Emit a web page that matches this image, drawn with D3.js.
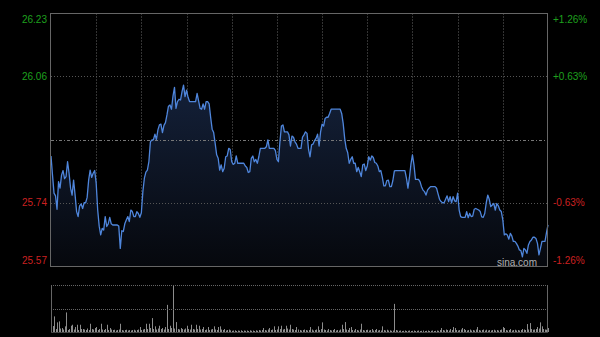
<!DOCTYPE html>
<html><head><meta charset="utf-8">
<script src="https://cdn.jsdelivr.net/npm/d3@7"></script>
<style>html,body{margin:0;padding:0;background:#000;overflow:hidden}</style>
</head><body><svg id="c" width="600" height="337"></svg>
<script>
// minute-by-minute prices (331 minutes, HK session 09:30-12:00, 13:00-16:00)
const prices = [
25.857,25.807,25.760,25.753,25.718,25.790,25.773,25.807,25.819,25.798,
25.803,25.842,25.812,25.773,25.755,25.794,25.755,25.712,25.699,25.727,
25.732,25.720,25.735,25.735,25.749,25.794,25.820,25.801,25.812,25.819,
25.786,25.716,25.674,25.651,25.668,25.664,25.699,25.673,25.680,25.697,
25.680,25.677,25.677,25.677,25.677,25.674,25.616,25.662,25.660,25.680,
25.690,25.699,25.686,25.716,25.712,25.699,25.699,25.712,25.707,25.697,
25.709,25.764,25.799,25.815,25.820,25.842,25.894,25.899,25.899,25.914,
25.900,25.925,25.938,25.940,25.918,25.937,25.944,25.964,25.987,25.990,
25.979,26.013,26.036,
25.981,25.999,26.005,26.003,26.025,26.042,26.012,26.029,26.010,25.999,
25.999,25.999,25.999,25.999,26.020,26.001,25.981,25.979,25.993,25.979,
25.999,25.999,25.993,25.958,25.927,25.918,25.890,25.860,25.851,25.820,
25.834,25.816,25.825,25.855,25.857,25.877,25.874,25.842,25.835,25.838,
25.857,25.838,25.838,25.838,25.838,25.838,25.831,25.827,25.814,25.816,
25.851,25.857,25.842,25.848,25.838,25.855,25.877,25.877,25.877,25.877,
25.881,25.899,25.877,25.877,25.877,25.877,25.871,25.848,25.842,25.894,
25.935,25.938,25.920,25.920,25.920,25.912,25.883,25.909,25.906,25.894,
25.888,25.877,25.877,
25.877,25.906,25.912,25.920,25.916,25.874,25.855,25.886,25.888,25.897,
25.903,25.914,25.883,25.920,25.940,25.935,25.955,25.958,25.958,25.968,
25.979,25.979,25.979,25.979,25.979,25.979,25.979,25.968,25.942,25.903,
25.877,25.866,25.838,25.848,25.855,25.838,25.838,25.816,25.827,25.816,
25.803,25.834,25.836,25.819,25.831,25.855,25.846,25.857,25.853,25.840,
25.838,25.831,25.816,25.819,25.801,25.779,25.779,25.793,25.794,25.777,
25.777,25.793,25.818,25.819,25.819,25.819,25.819,25.819,25.819,25.819,
25.799,25.773,25.801,25.836,25.860,25.834,25.796,25.796,25.796,25.790,
25.777,25.768,
25.764,25.755,25.768,25.773,25.777,25.777,25.777,25.777,25.773,25.758,
25.744,25.738,25.735,25.735,25.744,25.753,25.738,25.751,25.735,25.751,
25.740,25.738,25.760,25.716,25.699,25.697,25.697,25.697,25.712,25.696,
25.707,25.699,25.700,25.718,25.720,25.718,25.716,25.712,25.698,25.697,
25.707,25.735,25.755,25.744,25.725,25.729,25.733,25.716,25.733,25.727,
25.716,25.712,25.690,25.651,25.654,25.651,25.640,25.655,25.648,25.634,
25.634,25.629,25.622,25.612,25.610,25.594,25.616,25.612,25.603,25.625,
25.634,25.638,25.645,25.645,25.642,25.629,25.599,25.616,25.634,25.634,
25.634,25.657,25.677
];
const volumes = [
240,60,157,30,97,107,35,40,25,57,
197,20,30,63,73,25,50,73,20,73,
30,30,25,20,35,20,83,30,25,40,
50,20,30,83,25,20,30,73,20,40,
25,20,23,15,20,25,83,20,15,20,
23,15,20,15,20,23,15,20,25,50,
20,25,30,83,30,83,40,140,30,57,
25,35,63,30,40,25,50,273,30,63,
40,473,35,100,30,25,40,30,25,35,
63,30,25,73,30,25,73,30,63,25,
30,50,20,25,50,20,25,30,57,25,
20,50,57,25,20,30,15,20,25,17,
12,15,17,10,15,12,17,10,15,12,
15,10,17,12,15,10,17,12,20,15,
20,40,20,15,25,40,20,25,57,20,
25,57,30,63,25,30,63,35,25,73,
30,25,20,50,25,20,15,20,25,20,
15,20,50,25,15,20,25,57,20,30,
97,25,20,15,30,20,15,20,30,15,
20,15,25,73,30,100,25,20,40,50,
20,15,30,20,15,25,83,20,15,20,
23,15,20,30,15,20,30,15,20,15,
57,20,15,23,15,17,12,15,283,20,
15,12,15,10,12,15,10,12,15,10,
12,15,10,12,15,10,12,15,10,12,
15,10,12,15,10,12,15,12,20,40,
20,15,25,20,15,30,20,50,40,20,
15,20,25,40,30,20,15,20,25,15,
20,15,25,50,20,15,20,25,15,23,
15,20,15,20,23,15,20,15,20,25,
50,40,20,15,20,30,15,20,23,15,
20,15,20,30,25,20,80,25,90,30,
23,25,30,50,35,97,57,30,25,23,
40
];
const priceLabels = ["26.23","26.06","25.90","25.74","25.57"];
const pctLabels = ["+1.26%","+0.63%","","-0.63%","-1.26%"];
const gridMinutes = [30,60,90,120,150,180,210,240,270,300];
const totalMinutes = 330;
const priceMin = 25.57, priceMax = 26.23;

const svg = d3.select("#c");
const P = {l:51, r:548, t:13, b:266};
const V = {t:285, b:332};
const x = d3.scaleLinear().domain([0, totalMinutes]).range([P.l, P.r]);
const y = d3.scaleLinear().domain([priceMin, priceMax]).range([P.b, P.t]);
const yv = d3.scaleLinear().domain([0, d3.max(volumes)]).range([V.b, V.t]);

svg.append("rect").attr("width",600).attr("height",337).attr("fill","#000");

const defs = svg.append("defs");
const g = defs.append("linearGradient").attr("id","ag").attr("gradientUnits","userSpaceOnUse")
  .attr("x1",0).attr("x2",0).attr("y1",80).attr("y2",P.b);
g.append("stop").attr("offset","0%").attr("stop-color","#14213a");
g.append("stop").attr("offset","100%").attr("stop-color","#06080d");

// grid levels
const levels = d3.range(5).map(k => priceMax - k*(priceMax-priceMin)/4);
const crisp = v => Math.round(v) + 0.5;

// vertical grid lines
svg.append("g").selectAll("line").data(gridMinutes).join("line")
  .attr("x1", d=>crisp(x(d))).attr("x2", d=>crisp(x(d)))
  .attr("y1", P.t).attr("y2", P.b)
  .attr("stroke","#333").attr("stroke-dasharray","2,1");

// area + line
const area = d3.area().x((d,i)=>x(i)).y0(P.b).y1(d=>y(d));
svg.append("path").datum(prices).attr("d", area).attr("fill","url(#ag)");

// horizontal levels
svg.append("g").selectAll("line").data(levels.slice(1,4)).join("line")
  .attr("x1", P.l).attr("x2", P.r)
  .attr("y1", d=>crisp(y(d))).attr("y2", d=>crisp(y(d)))
  .attr("stroke", (d,i)=> i===1 ? "#777" : "#555")
  .attr("stroke-dasharray", (d,i)=> i===1 ? "3,2,1,2" : "1,2");

const line = d3.line().x((d,i)=>x(i)).y(d=>y(d));
svg.append("path").datum(prices).attr("d", line)
  .attr("fill","none").attr("stroke","#4f86dc").attr("stroke-width",1.3)
  .attr("stroke-linejoin","round");

// frame
svg.append("rect").attr("x",P.l-0.5).attr("y",P.t+0.5).attr("width",P.r-P.l).attr("height",P.b-P.t)
  .attr("fill","none").attr("stroke","#666");

// labels
const lblY = (d,i) => i===0 ? y(d)+6 : (i===4 ? y(d)-6 : y(d));
svg.append("g").selectAll("text").data(levels).join("text")
  .filter((d,i)=>i!==2)
  .attr("x", 47).attr("y", (d,i,n)=>0)
  ;
svg.selectAll("g text").remove();
const labG = svg.append("g").attr("font-family","Arial, 'Liberation Sans', sans-serif").attr("font-size","10px");
levels.forEach((d,i)=>{
  if (i===2) return;
  const col = i<2 ? "#1ea01e" : "#cc2020";
  labG.append("text").attr("x",47).attr("y",lblY(d,i)).attr("dy","0.35em")
    .attr("text-anchor","end").attr("fill",col).text(priceLabels[i]);
  labG.append("text").attr("x",553).attr("y",lblY(d,i)).attr("dy","0.35em")
    .attr("text-anchor","start").attr("fill",col).text(pctLabels[i]);
});

// watermark
svg.append("text").attr("x",537).attr("y",262).attr("dy","0.35em").attr("text-anchor","end")
  .attr("font-family","Arial, 'Liberation Sans', sans-serif").attr("font-size","10px")
  .attr("fill","#b0b0b0").text("sina.com");

// volume panel
svg.append("g").selectAll("rect").data(volumes).join("rect")
  .attr("x",(d,i)=>Math.round(x(i))).attr("width",1)
  .attr("y",d=>yv(d)).attr("height",d=>V.b-yv(d)).attr("fill","#8c8c8c");
const vmid = (V.t+V.b)/2;
svg.append("g").selectAll("line").data([V.t, 309]).join("line")
  .attr("x1",P.l).attr("x2",P.r).attr("y1",d=>d+0.5).attr("y2",d=>d+0.5)
  .attr("stroke","#666").attr("stroke-dasharray","1,1");
svg.append("line").attr("x1",P.l+0.5).attr("x2",P.l+0.5).attr("y1",V.t).attr("y2",V.b+1).attr("stroke","#666");
svg.append("line").attr("x1",P.r-0.5).attr("x2",P.r-0.5).attr("y1",V.t).attr("y2",V.b+1).attr("stroke","#666");
svg.append("line").attr("x1",P.l).attr("x2",P.r).attr("y1",V.b+0.5).attr("y2",V.b+0.5).attr("stroke","#444");
</script></body></html>
